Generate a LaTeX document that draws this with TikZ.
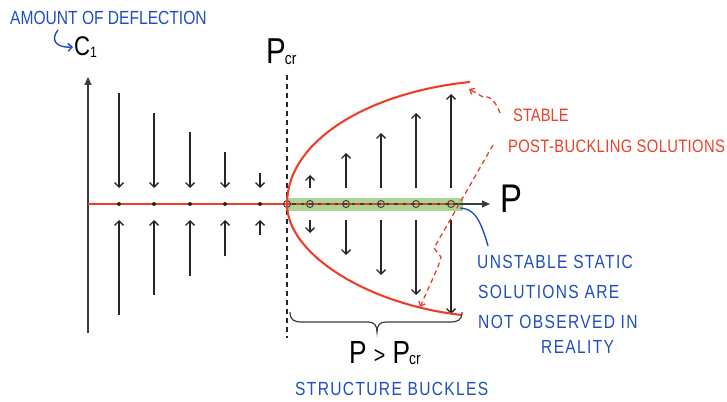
\documentclass[tikz,border=0pt]{standalone}
\usepackage{fontspec}
\setmainfont{Liberation Sans}
\newfontfamily\hand[FakeStretch=0.82]{Liberation Sans}
\newfontfamily\handw[FakeStretch=0.82,LetterSpace=7]{Liberation Sans}
\newfontfamily\handww[FakeStretch=0.82,LetterSpace=2]{Liberation Sans}
\usetikzlibrary{arrows.meta,calc}
\definecolor{hred}{RGB}{236,62,40}
\definecolor{hblue}{RGB}{32,78,190}
\definecolor{hgreen}{RGB}{160,205,130}
\definecolor{hgray}{RGB}{60,60,60}
\begin{document}
\begin{tikzpicture}[x=1pt,y=-1pt,
  vec/.style={draw=black!85,line width=1.3pt,-{Straight Barb[length=4.5pt,width=9pt]}},
  axisline/.style={draw=hgray,line width=1.1pt,-{Triangle[length=8pt,width=7pt]}},
  redcurve/.style={draw=hred,line width=2.1pt},
  reddash/.style={draw=hred,line width=1.3pt,dash pattern=on 5pt off 3.5pt},
  bluetxt/.style={text=hblue,font=\handw\fontsize{19}{19}\selectfont,anchor=west,inner sep=0pt},
  redtxt/.style={text=hred,font=\hand\fontsize{18}{18}\selectfont,anchor=west,inner sep=0pt},
  bigtxt/.style={text=black,inner sep=0pt},
  opendot/.style={draw=hgray,line width=0.9pt},
]
\useasboundingbox (0,0) rectangle (727,401);

% green band
\fill[hgreen,opacity=0.85] (287,197.5) rectangle (463,210.5);

% axes
\coordinate (yb) at (88,333);
\coordinate (yt) at (88,77);
\coordinate (xo) at (88,204);
\coordinate (xe) at (490,204);
\draw[axisline] (yb) -- (yt);
\draw[axisline] (xo) -- (xe);

% Pcr dashed line
\coordinate (pt) at (287,75);
\coordinate (pb) at (287,338);
\draw[black!85,line width=1.2pt,dash pattern=on 5pt off 4pt] (pt) -- (pb);

% stable trivial branch
\coordinate (pcr) at (287,204);
\draw[hred,line width=1.7pt] (xo) -- (pcr);
% unstable trivial branch
\coordinate (ue) at (455,204);
\draw[reddash] (pcr) -- (ue);

% left arrows (stable region)
\foreach \x/\t in {119/93,154/113,190/132,225/152,260/173}{
  \draw[vec] (\x,\t) -- (\x,188);
  \draw[vec] (\x,408-\t) -- (\x,220);
  \fill[black!85] (\x,204) circle (2pt);
}

% right arrows (unstable region)
\foreach \x/\t in {310/175,346/153,381/133,416/113,451/94}{
  \draw[vec] (\x,188) -- (\x,\t);
  \draw[vec] (\x,220) -- (\x,408-\t);
  \draw[opendot] (\x,204) circle (3.5pt);
}
\draw[opendot] (pcr) circle (3.5pt);

% post-buckling branches
\coordinate (ue1) at (470,82);
\coordinate (le1) at (462,315);
\draw[redcurve] (pcr) .. controls (287,140) and (370,92) .. (ue1);
\draw[redcurve] (pcr) .. controls (287,255) and (370,305) .. (le1);

% red dashed pointers
\coordinate (s1) at (500,113);
\coordinate (s1t) at (469,89);
\draw[reddash,-{Straight Barb[length=4pt,width=7pt]}] (s1) .. controls (494,98) and (489,96) .. (483,97) -- (s1t);
\coordinate (s2) at (493,145);
\coordinate (s2t) at (420,307);
\draw[reddash,-{Straight Barb[length=4pt,width=7pt]}] (s2) -- (434,248) -- (441,257) -- (438,267) -- (s2t);

% blue pointer
\coordinate (b1) at (460,208);
\coordinate (b2) at (488,246);
\draw[hblue,line width=1.4pt] (b1) .. controls (472,209) and (479,214) .. (b2);

% brace
\draw[hgray,line width=1.2pt] (290,312) .. controls (290,320) and (294,322) .. (302,322)
  -- (368,322) .. controls (374,322) and (377,325) .. (377,332)
  .. controls (377,325) and (380,322) .. (386,322)
  -- (450,322) .. controls (458,322) and (462,320) .. (462,312);

% hooked blue arrow to C1
\coordinate (h1) at (58,30);
\coordinate (h2) at (73,47);
\draw[hblue,line width=1.4pt,-{Straight Barb[length=4pt,width=8pt]}] (h1) .. controls (50,40) and (56,48) .. (h2);

% texts
\node[bluetxt,font=\hand\fontsize{19}{19}\selectfont] (amount) at (10,18) {AMOUNT OF DEFLECTION};
\node[bigtxt,anchor=west] (c1) at (74,47) {\hand\fontsize{27}{27}\selectfont C\raisebox{-0.1ex}{\fontsize{15}{15}\selectfont 1}};
\node[bigtxt,anchor=west] (pcrl) at (266,52) {\hand\fontsize{36}{36}\selectfont P\hspace{-1pt}\raisebox{-0.05ex}{\fontsize{17}{17}\selectfont cr}};
\node[bigtxt,anchor=west] (plabel) at (500,199) {\hand\fontsize{40}{40}\selectfont P};
\node[bigtxt] (pgt) at (385,353) {\hand\fontsize{32}{32}\selectfont P {\fontsize{24}{24}\selectfont >} P\hspace{-1pt}\raisebox{-0.05ex}{\fontsize{17}{17}\selectfont cr}};
\node[bluetxt] (buckles) at (295,389) {STRUCTURE BUCKLES};
\node[redtxt] (stable) at (513,115) {STABLE};
\node[redtxt,font=\handww\fontsize{18}{18}\selectfont] (post) at (508,146) {POST-BUCKLING SOLUTIONS};
\node[bluetxt] (u1) at (477,262) {UNSTABLE STATIC};
\node[bluetxt] (u2) at (478,292) {SOLUTIONS ARE};
\node[bluetxt] (u3) at (478,322) {NOT OBSERVED IN};
\node[bluetxt] (u4) at (541,347) {REALITY};
\end{tikzpicture}
\end{document}
